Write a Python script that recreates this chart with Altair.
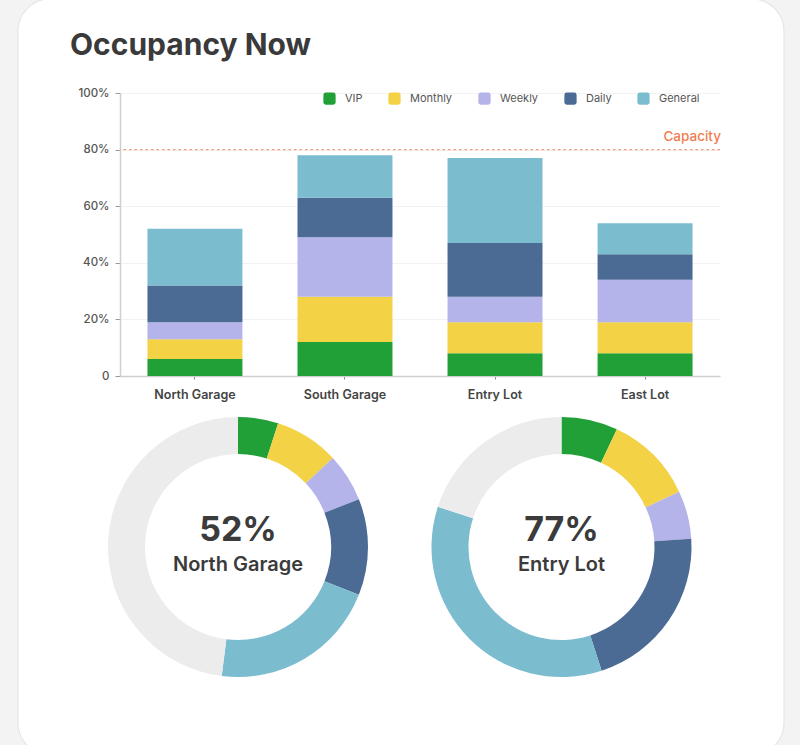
import altair as alt
import pandas as pd

# ---------------- data ----------------
LOTS = ["North Garage", "South Garage", "Entry Lot", "East Lot"]
TYPES = ["VIP", "Monthly", "Weekly", "Daily", "General"]
VIP = [6, 12, 8, 8]
MONTHLY = [7, 16, 11, 11]
WEEKLY = [6, 21, 9, 15]
DAILY = [13, 14, 19, 9]
GENERAL = [20, 15, 30, 11]
CAPACITY = [80]
CAPACITY_LABEL = ["Capacity"]
Y_TICKS = [0, 20, 40, 60, 80, 100]

DONUT_LOTS = ["North Garage", "Entry Lot"]
DONUT_LABELS = ["52%", "77%"]
DONUT_NORTH = [5, 8, 6, 12, 21]
DONUT_ENTRY = [7, 11, 6, 21, 35]
AVAILABLE = "Available"
TITLE = ["Occupancy Now"]

# ---------------- tables ----------------
series = dict(zip(TYPES, [VIP, MONTHLY, WEEKLY, DAILY, GENERAL]))
bar_rows = []
for i, t in enumerate(TYPES):
    for lot, v in zip(LOTS, series[t]):
        bar_rows.append({"lot": lot, "type": t, "idx": i, "value": v})
bars_df = pd.DataFrame(bar_rows)

donut_rows = []
for name, vals in zip(DONUT_LOTS, [DONUT_NORTH, DONUT_ENTRY]):
    for i, (t, v) in enumerate(zip(TYPES, vals)):
        donut_rows.append({"lot": name, "type": t, "idx": i, "value": v})
    donut_rows.append({"lot": name, "type": AVAILABLE, "idx": len(TYPES), "value": 100 - sum(vals)})
donut_df = pd.DataFrame(donut_rows)
label_df = pd.DataFrame({"lot": DONUT_LOTS, "pct": DONUT_LABELS})
cap_df = pd.DataFrame({"cap": CAPACITY, "label": CAPACITY_LABEL})
title_df = pd.DataFrame({"t": TITLE})

# ---------------- styles ----------------
FONT = "Inter"
COLORS = ["#22a038", "#f3d245", "#b4b4ea", "#4b6a94", "#7cbccf", "#ececec"]
color_scale = alt.Scale(domain=TYPES + [AVAILABLE], range=COLORS)
ROUND_SQ = "M-1,-0.6Q-1,-1,-0.6,-1L0.6,-1Q1,-1,1,-0.6L1,0.6Q1,1,0.6,1L-0.6,1Q-1,1,-1,0.6Z"
legend = alt.Legend(
    title=None, orient="none", direction="horizontal", legendX=203, legendY=-1,
    values=TYPES, symbolType=ROUND_SQ, symbolSize=150, symbolStrokeWidth=0,
    labelFont=FONT, labelFontSize=11, labelColor="#555555", labelOffset=9,
    columnPadding=25, padding=0,
)
color = alt.Color("type:N", scale=color_scale, legend=legend)

yscale = alt.Scale(domain=[0, 100], nice=False)
yaxis = alt.Axis(
    values=Y_TICKS, title=None,
    labelExpr="datum.value == 0 ? '0' : datum.value + '%'",
    grid=True, gridColor="#f2f2f2", domainColor="#cfcfcf", domainWidth=1.5,
    tickColor="#999999", tickSize=5, labelPadding=6,
    labelFont=FONT, labelFontSize=11.5, labelColor="#555555", labelFontWeight=500,
)
xaxis = alt.Axis(
    title=None, labelAngle=0, domainColor="#cfcfcf", domainWidth=1.5,
    tickColor="#888888", tickSize=3, labelPadding=9,
    labelFont=FONT, labelFontSize=12.5, labelColor="#444444", labelFontWeight=600,
)
xenc = alt.X("lot:N", sort=LOTS, scale=alt.Scale(paddingInner=0.367, paddingOuter=0.183), axis=xaxis)

W, H = 600, 283
PAD = {"left": 120, "top": 93, "right": 80, "bottom": 369}
DONUT_X = [118, 441.5]
DONUT_Y = 454

# ---------------- layers ----------------
bars = alt.Chart(bars_df).mark_bar().encode(
    x=xenc,
    y=alt.Y("value:Q", stack=True, scale=yscale, axis=yaxis),
    color=color,
    order=alt.Order("idx:Q", sort="ascending"),
)

cap_rule = alt.Chart(cap_df).mark_rule(color="#f29a7c", strokeDash=[2.5, 3], strokeWidth=1.3).encode(
    y=alt.Y("cap:Q", scale=yscale, axis=yaxis)
)
cap_text = alt.Chart(cap_df).mark_text(
    align="right", baseline="alphabetic", dy=-9, font=FONT, fontSize=13.5,
    fontWeight=500, color="#ef7d52"
).encode(
    x=alt.value(601),
    y=alt.Y("cap:Q", scale=yscale, axis=yaxis),
    text="label:N",
)

title = alt.Chart(title_df).mark_text(
    align="left", baseline="alphabetic", font=FONT, fontSize=30, fontWeight=700, color="#3a3a3a"
).encode(x=alt.value(-50), y=alt.value(-38), text="t:N")

layers = [bars, cap_rule, cap_text, title]

for k, name in enumerate(DONUT_LOTS):
    arc = alt.Chart(donut_df).transform_filter(alt.datum.lot == name).mark_arc(
        radius=130, radius2=93
    ).encode(
        theta=alt.Theta("value:Q", stack=True, scale=alt.Scale(domain=[0, 100])),
        color=color,
        order=alt.Order("idx:Q", sort="ascending"),
        x=alt.value(DONUT_X[k]),
        y=alt.value(DONUT_Y),
    )
    pct = alt.Chart(label_df).transform_filter(alt.datum.lot == name).mark_text(
        align="center", baseline="alphabetic", font=FONT, fontSize=34, fontWeight=700, color="#3b3b3b"
    ).encode(x=alt.value(DONUT_X[k]), y=alt.value(448), text="pct:N")
    nm = alt.Chart(label_df).transform_filter(alt.datum.lot == name).mark_text(
        align="center", baseline="alphabetic", font=FONT, fontSize=20, fontWeight=600, color="#3b3b3b"
    ).encode(x=alt.value(DONUT_X[k]), y=alt.value(478), text="lot:N")
    layers += [arc, pct, nm]

# card frame (outside of the rounded white card)
one = pd.DataFrame({"k": [0]})
frame = alt.Chart(one).mark_rect(
    fillOpacity=0, stroke="#f3f3f3", strokeWidth=80, cornerRadius=72
).encode(x=alt.value(-142), x2=alt.value(704), y=alt.value(-134), y2=alt.value(702))
edge = alt.Chart(one).mark_rect(
    fillOpacity=0, stroke="#e6e6e6", strokeWidth=1.2, cornerRadius=32
).encode(x=alt.value(-102), x2=alt.value(664), y=alt.value(-94), y2=alt.value(662))
layers += [frame, edge]

chart = alt.layer(*layers).properties(
    width=W, height=H, padding=PAD,
    autosize=alt.AutoSizeParams(type="none"),
    background="white",
).configure_view(stroke=None)

chart.save("out.html", embed_options={"renderer": "svg", "actions": False})
